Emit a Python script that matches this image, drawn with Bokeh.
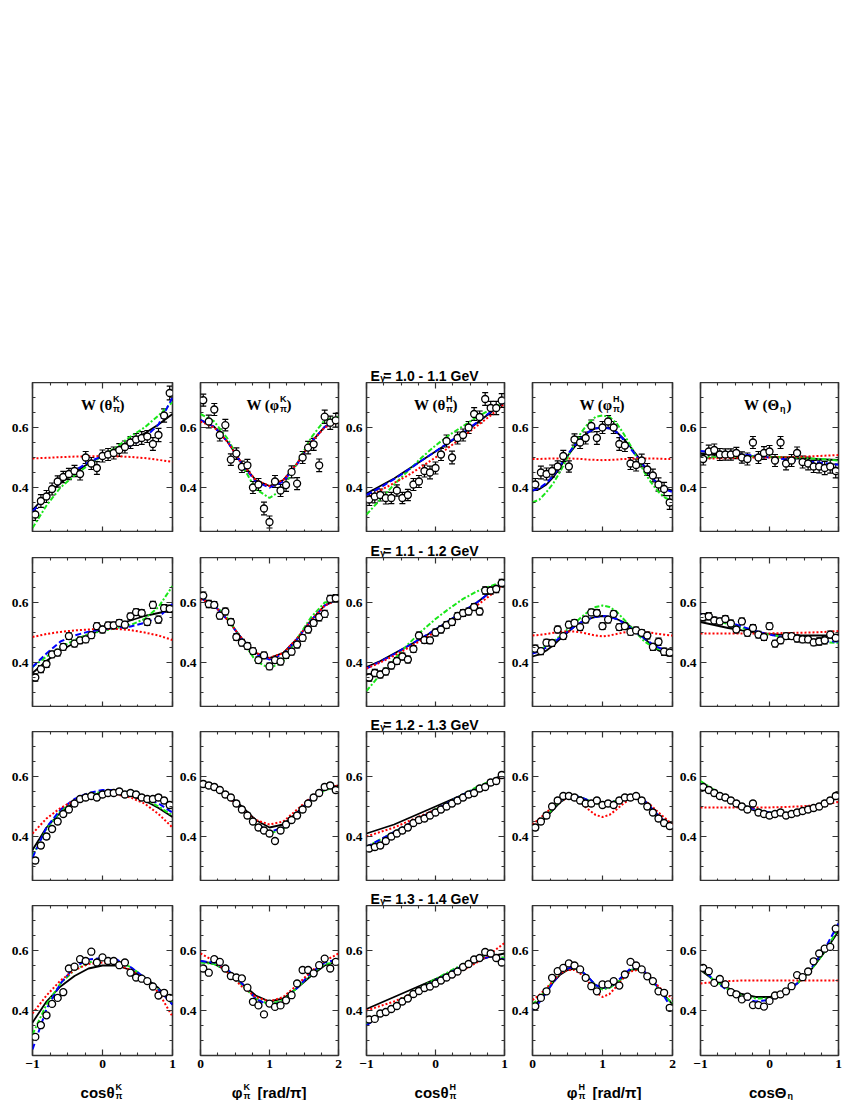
from bokeh.plotting import figure
from bokeh.models import (Range1d, LinearAxis, FixedTicker, CustomJSTickFormatter,
                          ColumnDataSource, Whisker, TeeHead, Label, Spacer)
from bokeh.core.properties import value
from bokeh.layouts import column, row
from bokeh.embed import file_html
from bokeh.resources import INLINE

# ---------------- bins / sample grids ----------------
cos_bins = [-0.96, -0.88, -0.80, -0.72, -0.64, -0.56, -0.48, -0.40, -0.32, -0.24, -0.16, -0.08,
            0.00, 0.08, 0.16, 0.24, 0.32, 0.40, 0.48, 0.56, 0.64, 0.72, 0.80, 0.88, 0.96]
phi_bins = [0.04, 0.12, 0.20, 0.28, 0.36, 0.44, 0.52, 0.60, 0.68, 0.76, 0.84, 0.92,
            1.00, 1.08, 1.16, 1.24, 1.32, 1.40, 1.48, 1.56, 1.64, 1.72, 1.80, 1.88, 1.96]
cos_grid = [-1.0, -0.8, -0.6, -0.4, -0.2, 0.0, 0.2, 0.4, 0.6, 0.8, 1.0]
phi_grid = [0.0, 0.2, 0.4, 0.6, 0.8, 1.0, 1.2, 1.4, 1.6, 1.8, 2.0]
phi_fine = [0.0, 0.1, 0.2, 0.3, 0.4, 0.5, 0.6, 0.7, 0.8, 0.9, 1.0,
            1.1, 1.2, 1.3, 1.4, 1.5, 1.6, 1.7, 1.8, 1.9, 2.0]

energy_labels = ["1.0 - 1.1 GeV", "1.1 - 1.2 GeV", "1.2 - 1.3 GeV", "1.3 - 1.4 GeV"]

# ---------------- errors per energy bin ----------------
err_r1 = [0.020, 0.021, 0.020, 0.020, 0.019, 0.019, 0.019, 0.019, 0.020, 0.020, 0.020, 0.021, 0.020,
          0.020, 0.020, 0.021, 0.020, 0.020, 0.020, 0.021, 0.020, 0.021, 0.022, 0.022, 0.023]
err_r2 = [0.012, 0.012, 0.011, 0.011, 0.011, 0.011, 0.011, 0.011, 0.011, 0.011, 0.011, 0.011, 0.011,
          0.011, 0.011, 0.011, 0.011, 0.011, 0.011, 0.011, 0.011, 0.012, 0.012, 0.012, 0.012]
err_r3 = [0.009, 0.009, 0.009, 0.008, 0.008, 0.008, 0.008, 0.008, 0.008, 0.008, 0.008, 0.008, 0.008,
          0.008, 0.008, 0.008, 0.008, 0.008, 0.008, 0.008, 0.008, 0.008, 0.009, 0.009, 0.009]
err_r4 = [0.007, 0.007, 0.006, 0.006, 0.006, 0.006, 0.006, 0.006, 0.006, 0.006, 0.006, 0.006, 0.006,
          0.006, 0.006, 0.006, 0.006, 0.006, 0.006, 0.006, 0.006, 0.006, 0.006, 0.007, 0.007]

# ---------------- E = 1.0 - 1.1 GeV ----------------
w_r1_ck = [0.31, 0.355, 0.37, 0.395, 0.42, 0.435, 0.445, 0.455, 0.445, 0.50, 0.48, 0.465, 0.505,
           0.51, 0.515, 0.525, 0.535, 0.55, 0.56, 0.565, 0.57, 0.545, 0.575, 0.64, 0.715]
blk_r1_ck = [0.325, 0.375, 0.415, 0.45, 0.48, 0.505, 0.53, 0.555, 0.58, 0.61, 0.645]
blu_r1_ck = [0.32, 0.37, 0.42, 0.455, 0.485, 0.505, 0.52, 0.54, 0.565, 0.61, 0.70]
grn_r1_ck = [0.265, 0.34, 0.40, 0.44, 0.475, 0.505, 0.535, 0.57, 0.60, 0.64, 0.685]
red_r1_ck = [0.497, 0.499, 0.501, 0.503, 0.504, 0.505, 0.504, 0.502, 0.498, 0.492, 0.486]

w_r1_pk = [0.691, 0.62, 0.66, 0.575, 0.608, 0.493, 0.513, 0.469, 0.474, 0.40, 0.41, 0.33, 0.285,
           0.42, 0.39, 0.408, 0.452, 0.413, 0.50, 0.533, 0.544, 0.474, 0.636, 0.616, 0.624]
blk_r1_pk = [0.625, 0.602, 0.55, 0.48, 0.425, 0.405, 0.425, 0.48, 0.55, 0.602, 0.625]
red_r1_pk = [0.62, 0.60, 0.55, 0.48, 0.425, 0.405, 0.425, 0.48, 0.55, 0.60, 0.62]
blu_r1_pk = [0.625, 0.602, 0.55, 0.478, 0.42, 0.40, 0.42, 0.478, 0.55, 0.602, 0.625]
grn_r1_pk = [0.645, 0.62, 0.56, 0.475, 0.395, 0.365, 0.395, 0.48, 0.565, 0.625, 0.635]

w_r1_ch = [0.36, 0.37, 0.375, 0.365, 0.365, 0.39, 0.365, 0.375, 0.41, 0.42, 0.455, 0.45, 0.465,
           0.51, 0.555, 0.50, 0.565, 0.575, 0.60, 0.645, 0.635, 0.695, 0.665, 0.665, 0.69]
blk_r1_ch = [0.38, 0.405, 0.43, 0.46, 0.49, 0.52, 0.55, 0.58, 0.615, 0.65, 0.685]
blu_r1_ch = [0.375, 0.40, 0.428, 0.458, 0.49, 0.52, 0.552, 0.583, 0.617, 0.652, 0.685]
red_r1_ch = [0.365, 0.39, 0.415, 0.44, 0.47, 0.50, 0.535, 0.57, 0.605, 0.64, 0.68]
grn_r1_ch = [0.31, 0.36, 0.41, 0.455, 0.50, 0.54, 0.575, 0.605, 0.635, 0.66, 0.685]

w_r1_ph = [0.41, 0.45, 0.445, 0.455, 0.47, 0.505, 0.47, 0.56, 0.55, 0.565, 0.605, 0.565, 0.60,
           0.62, 0.60, 0.545, 0.54, 0.48, 0.475, 0.49, 0.46, 0.44, 0.41, 0.395, 0.35]
blk_r1_ph = [0.39, 0.395, 0.41, 0.435, 0.47, 0.505, 0.535, 0.563, 0.585, 0.597, 0.60,
             0.597, 0.585, 0.563, 0.535, 0.505, 0.47, 0.435, 0.41, 0.395, 0.39]
blu_r1_ph = [0.39, 0.398, 0.415, 0.44, 0.475, 0.51, 0.54, 0.565, 0.585, 0.597, 0.60,
             0.597, 0.585, 0.56, 0.53, 0.50, 0.47, 0.435, 0.41, 0.393, 0.385]
grn_r1_ph = [0.35, 0.36, 0.385, 0.415, 0.455, 0.50, 0.545, 0.585, 0.615, 0.635, 0.64,
             0.635, 0.615, 0.58, 0.54, 0.495, 0.45, 0.415, 0.385, 0.365, 0.355]
red_r1_ph = [0.495, 0.495, 0.496, 0.497, 0.497, 0.497, 0.496, 0.495, 0.493, 0.492, 0.491,
             0.492, 0.493, 0.495, 0.496, 0.497, 0.497, 0.497, 0.496, 0.495, 0.495]

w_r1_ce = [0.495, 0.52, 0.525, 0.51, 0.51, 0.51, 0.515, 0.50, 0.495, 0.55, 0.50, 0.515, 0.52,
           0.49, 0.55, 0.48, 0.49, 0.515, 0.485, 0.48, 0.47, 0.47, 0.465, 0.47, 0.455]
blk_r1_ce = [0.512, 0.51, 0.508, 0.506, 0.504, 0.502, 0.50, 0.498, 0.496, 0.494, 0.492]
blu_r1_ce = [0.522, 0.518, 0.514, 0.51, 0.506, 0.50, 0.495, 0.49, 0.486, 0.481, 0.476]
grn_r1_ce = [0.50, 0.501, 0.502, 0.503, 0.503, 0.502, 0.501, 0.499, 0.497, 0.494, 0.49]
red_r1_ce = [0.496, 0.497, 0.498, 0.499, 0.50, 0.50, 0.501, 0.502, 0.504, 0.506, 0.508]

# ---------------- E = 1.1 - 1.2 GeV ----------------
w_r2_ck = [0.35, 0.378, 0.395, 0.427, 0.433, 0.452, 0.488, 0.463, 0.474, 0.477, 0.491, 0.521, 0.51,
           0.524, 0.524, 0.532, 0.526, 0.554, 0.568, 0.565, 0.535, 0.592, 0.543, 0.581, 0.579]
blk_r2_ck = [0.365, 0.405, 0.44, 0.465, 0.49, 0.51, 0.525, 0.54, 0.555, 0.565, 0.575]
blu_r2_ck = [0.385, 0.43, 0.47, 0.49, 0.503, 0.51, 0.515, 0.52, 0.532, 0.55, 0.595]
grn_r2_ck = [0.385, 0.42, 0.45, 0.475, 0.495, 0.505, 0.515, 0.525, 0.545, 0.585, 0.655]
red_r2_ck = [0.485, 0.495, 0.502, 0.507, 0.51, 0.512, 0.512, 0.508, 0.50, 0.49, 0.475]

w_r2_pk = [0.623, 0.595, 0.592, 0.556, 0.57, 0.535, 0.485, 0.466, 0.455, 0.438, 0.408, 0.424, 0.387,
           0.408, 0.403, 0.425, 0.436, 0.46, 0.482, 0.51, 0.532, 0.551, 0.562, 0.612, 0.614]
blk_r2_pk = [0.615, 0.59, 0.54, 0.48, 0.432, 0.415, 0.432, 0.48, 0.54, 0.59, 0.61]
red_r2_pk = [0.612, 0.59, 0.54, 0.48, 0.432, 0.415, 0.432, 0.48, 0.54, 0.59, 0.61]
blu_r2_pk = [0.615, 0.59, 0.54, 0.478, 0.428, 0.41, 0.428, 0.478, 0.54, 0.59, 0.612]
grn_r2_pk = [0.615, 0.595, 0.545, 0.475, 0.405, 0.38, 0.405, 0.48, 0.55, 0.60, 0.61]

w_r2_ch = [0.35, 0.365, 0.36, 0.37, 0.39, 0.405, 0.42, 0.41, 0.445, 0.49, 0.475, 0.474, 0.50,
           0.51, 0.525, 0.535, 0.555, 0.565, 0.57, 0.585, 0.57, 0.64, 0.64, 0.645, 0.665]
blk_r2_ch = [0.385, 0.405, 0.43, 0.455, 0.48, 0.51, 0.54, 0.57, 0.60, 0.635, 0.67]
blu_r2_ch = [0.38, 0.403, 0.428, 0.455, 0.482, 0.51, 0.54, 0.57, 0.60, 0.635, 0.668]
red_r2_ch = [0.38, 0.40, 0.423, 0.448, 0.475, 0.502, 0.53, 0.56, 0.59, 0.625, 0.665]
grn_r2_ch = [0.305, 0.36, 0.41, 0.46, 0.505, 0.545, 0.58, 0.612, 0.637, 0.655, 0.672]

w_r2_ph = [0.446, 0.438, 0.466, 0.465, 0.51, 0.488, 0.526, 0.532, 0.518, 0.543, 0.567, 0.565, 0.521,
           0.543, 0.562, 0.518, 0.521, 0.502, 0.507, 0.499, 0.49, 0.452, 0.469, 0.436, 0.433]
blk_r2_ph = [0.42, 0.427, 0.44, 0.458, 0.48, 0.50, 0.52, 0.535, 0.545, 0.552, 0.555,
             0.552, 0.545, 0.535, 0.52, 0.50, 0.48, 0.458, 0.44, 0.43, 0.425]
blu_r2_ph = [0.43, 0.437, 0.45, 0.466, 0.485, 0.503, 0.52, 0.535, 0.545, 0.552, 0.555,
             0.552, 0.545, 0.532, 0.515, 0.497, 0.48, 0.463, 0.45, 0.44, 0.435]
grn_r2_ph = [0.435, 0.442, 0.455, 0.47, 0.49, 0.51, 0.53, 0.552, 0.57, 0.585, 0.59,
             0.585, 0.57, 0.545, 0.52, 0.495, 0.47, 0.455, 0.445, 0.438, 0.435]
red_r2_ph = [0.49, 0.492, 0.495, 0.499, 0.502, 0.504, 0.503, 0.50, 0.495, 0.49, 0.487,
             0.49, 0.495, 0.50, 0.503, 0.504, 0.502, 0.499, 0.495, 0.492, 0.49]

w_r2_ce = [0.551, 0.554, 0.54, 0.537, 0.545, 0.53, 0.51, 0.537, 0.499, 0.515, 0.493, 0.485, 0.521,
           0.463, 0.474, 0.488, 0.488, 0.48, 0.477, 0.477, 0.467, 0.47, 0.474, 0.493, 0.482]
blk_r2_ce = [0.535, 0.525, 0.515, 0.507, 0.50, 0.495, 0.492, 0.49, 0.49, 0.49, 0.49]
blu_r2_ce = [0.56, 0.548, 0.535, 0.52, 0.505, 0.493, 0.485, 0.478, 0.473, 0.47, 0.47]
grn_r2_ce = [0.555, 0.54, 0.528, 0.515, 0.503, 0.493, 0.485, 0.478, 0.472, 0.468, 0.465]
red_r2_ce = [0.497, 0.497, 0.497, 0.497, 0.497, 0.497, 0.498, 0.499, 0.50, 0.502, 0.505]

# ---------------- E = 1.2 - 1.3 GeV ----------------
w_r3_ck = [0.32, 0.37, 0.40, 0.425, 0.45, 0.475, 0.49, 0.51, 0.525, 0.53, 0.535, 0.53, 0.54,
           0.545, 0.545, 0.55, 0.54, 0.545, 0.54, 0.53, 0.525, 0.525, 0.53, 0.52, 0.505]
blk_r3_ck = [0.355, 0.43, 0.48, 0.515, 0.535, 0.545, 0.545, 0.535, 0.52, 0.495, 0.465]
blu_r3_ck = [0.33, 0.43, 0.49, 0.525, 0.545, 0.555, 0.555, 0.545, 0.53, 0.51, 0.48]
grn_r3_ck = [0.335, 0.425, 0.485, 0.52, 0.54, 0.55, 0.55, 0.54, 0.525, 0.50, 0.47]
red_r3_ck = [0.41, 0.46, 0.495, 0.52, 0.535, 0.54, 0.54, 0.53, 0.51, 0.475, 0.43]

w_r3_pk = [0.575, 0.57, 0.565, 0.555, 0.54, 0.53, 0.51, 0.49, 0.47, 0.45, 0.43, 0.42, 0.41,
           0.385, 0.42, 0.44, 0.455, 0.47, 0.49, 0.51, 0.53, 0.545, 0.565, 0.57, 0.555]
blk_r3_pk = [0.575, 0.565, 0.54, 0.50, 0.455, 0.43, 0.44, 0.48, 0.525, 0.56, 0.57]
red_r3_pk = [0.58, 0.565, 0.53, 0.49, 0.455, 0.44, 0.45, 0.49, 0.53, 0.56, 0.57]
blu_r3_pk = [0.575, 0.565, 0.535, 0.49, 0.445, 0.415, 0.43, 0.475, 0.525, 0.56, 0.565]
grn_r3_pk = [0.575, 0.565, 0.535, 0.49, 0.44, 0.41, 0.425, 0.47, 0.52, 0.555, 0.565]

w_r3_ch = [0.36, 0.365, 0.37, 0.385, 0.40, 0.41, 0.42, 0.43, 0.445, 0.455, 0.46, 0.47, 0.48,
           0.49, 0.50, 0.51, 0.52, 0.53, 0.54, 0.545, 0.56, 0.565, 0.58, 0.585, 0.605]
blk_r3_ch = [0.41, 0.425, 0.44, 0.46, 0.48, 0.50, 0.52, 0.54, 0.56, 0.585, 0.61]
red_r3_ch = [0.40, 0.415, 0.43, 0.45, 0.47, 0.49, 0.51, 0.53, 0.555, 0.58, 0.60]
blu_r3_ch = [0.365, 0.39, 0.415, 0.44, 0.465, 0.49, 0.515, 0.54, 0.56, 0.58, 0.60]
grn_r3_ch = [0.365, 0.39, 0.415, 0.44, 0.465, 0.49, 0.515, 0.54, 0.565, 0.585, 0.605]

w_r3_ph = [0.43, 0.45, 0.47, 0.50, 0.52, 0.535, 0.535, 0.53, 0.52, 0.51, 0.51, 0.52, 0.505,
           0.51, 0.505, 0.52, 0.53, 0.53, 0.535, 0.52, 0.50, 0.48, 0.46, 0.445, 0.435]
blk_r3_ph = [0.425, 0.443, 0.465, 0.49, 0.515, 0.53, 0.535, 0.53, 0.52, 0.512, 0.51,
             0.512, 0.52, 0.53, 0.535, 0.53, 0.515, 0.49, 0.465, 0.443, 0.425]
blu_r3_ph = [0.425, 0.445, 0.47, 0.495, 0.52, 0.532, 0.535, 0.53, 0.52, 0.512, 0.51,
             0.512, 0.52, 0.53, 0.535, 0.532, 0.52, 0.495, 0.47, 0.448, 0.43]
grn_r3_ph = [0.43, 0.448, 0.47, 0.495, 0.52, 0.532, 0.535, 0.53, 0.52, 0.511, 0.508,
             0.511, 0.52, 0.53, 0.535, 0.532, 0.52, 0.495, 0.47, 0.448, 0.43]
red_r3_ph = [0.44, 0.46, 0.48, 0.502, 0.52, 0.527, 0.525, 0.51, 0.49, 0.472, 0.465,
             0.472, 0.49, 0.51, 0.525, 0.527, 0.52, 0.502, 0.48, 0.46, 0.44]

w_r3_ce = [0.565, 0.555, 0.545, 0.535, 0.53, 0.52, 0.51, 0.50, 0.49, 0.51, 0.48, 0.475, 0.47,
           0.475, 0.48, 0.47, 0.475, 0.48, 0.485, 0.49, 0.495, 0.50, 0.51, 0.52, 0.535]
blk_r3_ce = [0.56, 0.54, 0.52, 0.50, 0.485, 0.475, 0.475, 0.48, 0.495, 0.51, 0.53]
blu_r3_ce = [0.575, 0.55, 0.525, 0.505, 0.49, 0.48, 0.475, 0.48, 0.49, 0.51, 0.535]
grn_r3_ce = [0.585, 0.555, 0.53, 0.505, 0.49, 0.48, 0.475, 0.48, 0.49, 0.51, 0.535]
red_r3_ce = [0.497, 0.497, 0.497, 0.497, 0.497, 0.497, 0.498, 0.50, 0.503, 0.508, 0.515]

# ---------------- E = 1.3 - 1.4 GeV ----------------
w_r4_ck = [0.312, 0.351, 0.384, 0.422, 0.442, 0.461, 0.54, 0.546, 0.571, 0.565, 0.596, 0.56, 0.577,
           0.565, 0.565, 0.551, 0.56, 0.526, 0.51, 0.506, 0.498, 0.48, 0.45, 0.459, 0.442]
blk_r4_ck = [0.36, 0.43, 0.48, 0.515, 0.54, 0.55, 0.55, 0.535, 0.51, 0.475, 0.42]
blu_r4_ck = [0.27, 0.405, 0.49, 0.545, 0.57, 0.575, 0.57, 0.545, 0.51, 0.47, 0.42]
grn_r4_ck = [0.32, 0.42, 0.49, 0.535, 0.56, 0.57, 0.565, 0.545, 0.51, 0.47, 0.425]
red_r4_ck = [0.39, 0.45, 0.50, 0.535, 0.555, 0.56, 0.555, 0.535, 0.505, 0.46, 0.38]

w_r4_pk = [0.54, 0.526, 0.571, 0.562, 0.54, 0.515, 0.51, 0.507, 0.476, 0.429, 0.417, 0.387, 0.423,
           0.412, 0.417, 0.434, 0.451, 0.49, 0.535, 0.535, 0.524, 0.551, 0.573, 0.54, 0.562]
blk_r4_pk = [0.565, 0.555, 0.53, 0.49, 0.45, 0.43, 0.44, 0.475, 0.515, 0.55, 0.565]
red_r4_pk = [0.59, 0.565, 0.525, 0.48, 0.445, 0.43, 0.445, 0.485, 0.53, 0.565, 0.59]
blu_r4_pk = [0.565, 0.56, 0.535, 0.49, 0.44, 0.415, 0.43, 0.475, 0.525, 0.56, 0.57]
grn_r4_pk = [0.56, 0.555, 0.53, 0.485, 0.44, 0.42, 0.435, 0.475, 0.52, 0.555, 0.56]

w_r4_ch = [0.37, 0.372, 0.39, 0.395, 0.405, 0.415, 0.43, 0.44, 0.455, 0.465, 0.475, 0.48, 0.49,
           0.50, 0.51, 0.52, 0.53, 0.545, 0.555, 0.57, 0.575, 0.595, 0.59, 0.575, 0.56]
blk_r4_ch = [0.405, 0.425, 0.445, 0.465, 0.485, 0.505, 0.525, 0.545, 0.565, 0.58, 0.59]
blu_r4_ch = [0.35, 0.385, 0.415, 0.445, 0.475, 0.50, 0.525, 0.55, 0.57, 0.58, 0.57]
grn_r4_ch = [0.355, 0.39, 0.42, 0.45, 0.48, 0.505, 0.53, 0.555, 0.575, 0.585, 0.575]
red_r4_ch = [0.40, 0.415, 0.43, 0.45, 0.47, 0.49, 0.51, 0.535, 0.56, 0.59, 0.625]

w_r4_ph = [0.414, 0.442, 0.464, 0.509, 0.531, 0.542, 0.557, 0.55, 0.537, 0.509, 0.481, 0.464, 0.487,
           0.487, 0.498, 0.483, 0.52, 0.562, 0.55, 0.537, 0.514, 0.498, 0.464, 0.459, 0.409]
blk_r4_ph = [0.41, 0.435, 0.465, 0.495, 0.52, 0.535, 0.54, 0.53, 0.51, 0.485, 0.475,
             0.478, 0.49, 0.512, 0.535, 0.538, 0.525, 0.503, 0.475, 0.447, 0.42]
blu_r4_ph = [0.40, 0.428, 0.46, 0.495, 0.525, 0.54, 0.545, 0.532, 0.51, 0.485, 0.475,
             0.48, 0.495, 0.518, 0.54, 0.543, 0.53, 0.505, 0.475, 0.44, 0.40]
grn_r4_ph = [0.42, 0.443, 0.47, 0.50, 0.525, 0.537, 0.54, 0.53, 0.51, 0.483, 0.47,
             0.475, 0.49, 0.512, 0.535, 0.538, 0.525, 0.50, 0.47, 0.445, 0.425]
red_r4_ph = [0.435, 0.452, 0.475, 0.50, 0.525, 0.535, 0.535, 0.52, 0.495, 0.462, 0.445,
             0.455, 0.48, 0.508, 0.53, 0.535, 0.53, 0.508, 0.48, 0.458, 0.44]

w_r4_ce = [0.542, 0.531, 0.492, 0.505, 0.487, 0.461, 0.454, 0.437, 0.446, 0.418, 0.418, 0.413, 0.432,
           0.45, 0.454, 0.464, 0.481, 0.518, 0.511, 0.53, 0.564, 0.59, 0.606, 0.612, 0.673]
blk_r4_ce = [0.535, 0.50, 0.475, 0.455, 0.445, 0.445, 0.46, 0.49, 0.535, 0.595, 0.665]
blu_r4_ce = [0.545, 0.50, 0.465, 0.44, 0.43, 0.435, 0.455, 0.49, 0.54, 0.605, 0.69]
grn_r4_ce = [0.54, 0.50, 0.47, 0.45, 0.44, 0.44, 0.455, 0.49, 0.535, 0.595, 0.675]
red_r4_ce = [0.49, 0.495, 0.498, 0.50, 0.50, 0.50, 0.50, 0.50, 0.50, 0.50, 0.50]

# ---------------- assemble tables ----------------
col_keys = ["ck", "pk", "ch", "ph", "ce"]
col_kind = {"ck": "cos", "pk": "phi", "ch": "cos", "ph": "phi", "ce": "cos"}
col_grid = {"ck": cos_grid, "pk": phi_grid, "ch": cos_grid, "ph": phi_fine, "ce": cos_grid}
errs = [err_r1, err_r2, err_r3, err_r4]
G = globals()

panel_sym = {"ck": ("\u03b8", "K", "\u03c0"), "pk": ("\u03c6", "K", "\u03c0"),
             "ch": ("\u03b8", "H", "\u03c0"), "ph": ("\u03c6", "H", "\u03c0"),
             "ce": ("\u0398", None, "\u03b7")}
axis_sym = {"ck": ("cos\u03b8", "K", "\u03c0", None), "pk": ("\u03c6", "K", "\u03c0", "[rad/\u03c0]"),
            "ch": ("cos\u03b8", "H", "\u03c0", None), "ph": ("\u03c6", "H", "\u03c0", "[rad/\u03c0]"),
            "ce": ("cos\u0398", None, "\u03b7", None)}

SANS = "Liberation Sans"
SERIF = "Liberation Serif"
FRAME_W, FRAME_H = 140, 150
LB = [32, 22, 22, 24, 22]
RB = [4, 4, 4, 4, 4]
TOTAL_W = sum(LB) + sum(RB) + 5 * FRAME_W
BB = [0, 0, 0, 22]
AXC = "#333333"


def lab(p, x, y, text, dx, dy, size, font=SANS, align="left"):
    p.add_layout(Label(x=x, y=y, x_offset=dx, y_offset=dy, text=text, text_font=font,
                       text_font_size=f"{size}px", text_font_style="bold", text_align=align,
                       text_baseline="alphabetic", text_color="black"))


def gtext(s, xs, ys, texts, size, align):
    s.text(x=xs, y=ys, text=texts, text_font=value(SANS), text_font_size=value(f"{size}px"),
           text_font_style=value("bold"), text_align=value(align),
           text_baseline=value("alphabetic"), text_color="black")


def style_axis(ax, show):
    ax.axis_line_color = None
    ax.major_tick_in = 6
    ax.major_tick_out = 0
    ax.minor_tick_in = 3
    ax.minor_tick_out = 0
    ax.major_tick_line_color = AXC
    ax.minor_tick_line_color = AXC
    ax.major_tick_line_width = 1.2
    ax.minor_tick_line_width = 1.1
    if show:
        ax.major_label_text_font = SERIF
        ax.major_label_text_font_style = "bold"
        ax.major_label_text_font_size = "13.5px"
        ax.major_label_standoff = 4
        ax.major_label_text_color = "black"
    else:
        ax.formatter = CustomJSTickFormatter(code="return ''")
        ax.major_label_text_font_size = "0px"
        ax.major_label_standoff = 0


def strip(h):
    s = figure(width=TOTAL_W, height=h, x_range=Range1d(0, TOTAL_W), y_range=Range1d(0, h),
               x_axis_type=None, y_axis_type=None, min_border=0,
               min_border_left=0, min_border_right=0, min_border_top=0, min_border_bottom=0,
               output_backend="svg", toolbar_location=None)
    s.outline_line_color = None
    s.background_fill_color = "white"
    s.border_fill_color = "white"
    return s


def make_panel(r, c):
    key = col_keys[c]
    kind = col_kind[key]
    grid = col_grid[key]
    if kind == "cos":
        xr, bins = (-1, 1), cos_bins
        xt = FixedTicker(ticks=[-1, 0, 1], minor_ticks=[-0.75, -0.5, -0.25, 0.25, 0.5, 0.75])
        xc = 0.0
    else:
        xr, bins = (0, 2), phi_bins
        xt = FixedTicker(ticks=[0, 1, 2], minor_ticks=[0.25, 0.5, 0.75, 1.25, 1.5, 1.75])
        xc = 1.0
    yt = FixedTicker(ticks=[0.4, 0.6], minor_ticks=[0.25, 0.3, 0.35, 0.45, 0.5, 0.55, 0.65, 0.7, 0.75])
    L, R, T, B = LB[c], RB[c], 0, BB[r]
    p = figure(width=L + FRAME_W + R, height=T + FRAME_H + B,
               x_range=Range1d(*xr), y_range=Range1d(0.25, 0.75),
               x_axis_type=None, y_axis_type=None,
               min_border_left=L, min_border_right=R, min_border_top=T, min_border_bottom=B,
               output_backend="svg", toolbar_location=None)
    p.xgrid.visible = False
    p.ygrid.visible = False
    p.outline_line_color = AXC
    p.outline_line_width = 1.6
    p.background_fill_color = "white"
    p.border_fill_color = "white"

    ax_b = LinearAxis(ticker=xt); style_axis(ax_b, r == 3); p.add_layout(ax_b, "below")
    ax_l = LinearAxis(ticker=yt); style_axis(ax_l, True); p.add_layout(ax_l, "left")
    ax_t = LinearAxis(ticker=xt); style_axis(ax_t, False); p.add_layout(ax_t, "above")
    ax_r = LinearAxis(ticker=yt); style_axis(ax_r, False); p.add_layout(ax_r, "right")

    w = G[f"w_r{r+1}_{key}"]
    e = errs[r]
    src = ColumnDataSource(dict(x=bins, y=w,
                                up=[a + b for a, b in zip(w, e)],
                                lo=[a - b for a, b in zip(w, e)]))
    wh = Whisker(source=src, base="x", upper="up", lower="lo", dimension="height",
                 line_color="black", line_width=1.2, level="underlay",
                 upper_head=TeeHead(size=6, line_color="black", line_width=1.2),
                 lower_head=TeeHead(size=6, line_color="black", line_width=1.2))
    p.add_layout(wh)

    p.line(grid, G[f"blk_r{r+1}_{key}"], line_color="black", line_width=1.8)
    p.line(grid, G[f"grn_r{r+1}_{key}"], line_color="#19e619", line_width=2.0, line_dash="5 2 2 2")
    p.line(grid, G[f"blu_r{r+1}_{key}"], line_color="#0000ff", line_width=2.0, line_dash="6 3")
    p.line(grid, G[f"red_r{r+1}_{key}"], line_color="#ff0000", line_width=2.0, line_dash="2 2")

    p.scatter("x", "y", source=src, marker="circle", size=7, fill_color="white",
              line_color="black", line_width=1.3)

    if r == 0:
        main, sup, sub = panel_sym[key]
        lab(p, xc, 0.75, "W (" + main, 10, -22, 15, SERIF, "right")
        if sup:
            lab(p, xc, 0.75, sup, 10.5, -16, 9, SANS, "left")
        lab(p, xc, 0.75, sub, 10.5, -26, 9, SANS, "left")
        lab(p, xc, 0.75, ")", 17, -22, 15, SERIF, "left")
    return p


# title strips above each row (energy bins) and axis-title strip at the bottom
strip_h = [24, 25, 24, 24]
blocks = [Spacer(width=TOTAL_W, height=358)]
for r in range(4):
    s = strip(strip_h[r])
    gtext(s, [379.3], [7.0], ["E"], 14, "right")
    gtext(s, [379.8], [4.5], ["\u03b3"], 9, "left")
    gtext(s, [382.7], [7.0], ["= " + energy_labels[r]], 14, "left")
    blocks.append(s)
    blocks.append(row(*[make_panel(r, c) for c in range(5)]))

bottom = strip(23)
axis_anchor = {"ck": 114, "pk": 242, "ch": 448, "ph": 577, "ce": 786}
for key in col_keys:
    main, sup, sub, tail = axis_sym[key]
    ax = axis_anchor[key]
    gtext(bottom, [ax], [8.0], [main], 15, "right")
    if sup:
        gtext(bottom, [ax + 1], [13.5], [sup], 9, "left")
    gtext(bottom, [ax + 1], [4.5], [sub], 9, "left")
    if tail:
        gtext(bottom, [ax + 15], [8.0], [tail], 15, "left")
blocks.append(bottom)

layout = column(*blocks)

open("out.html", "w").write(file_html(layout, INLINE))
